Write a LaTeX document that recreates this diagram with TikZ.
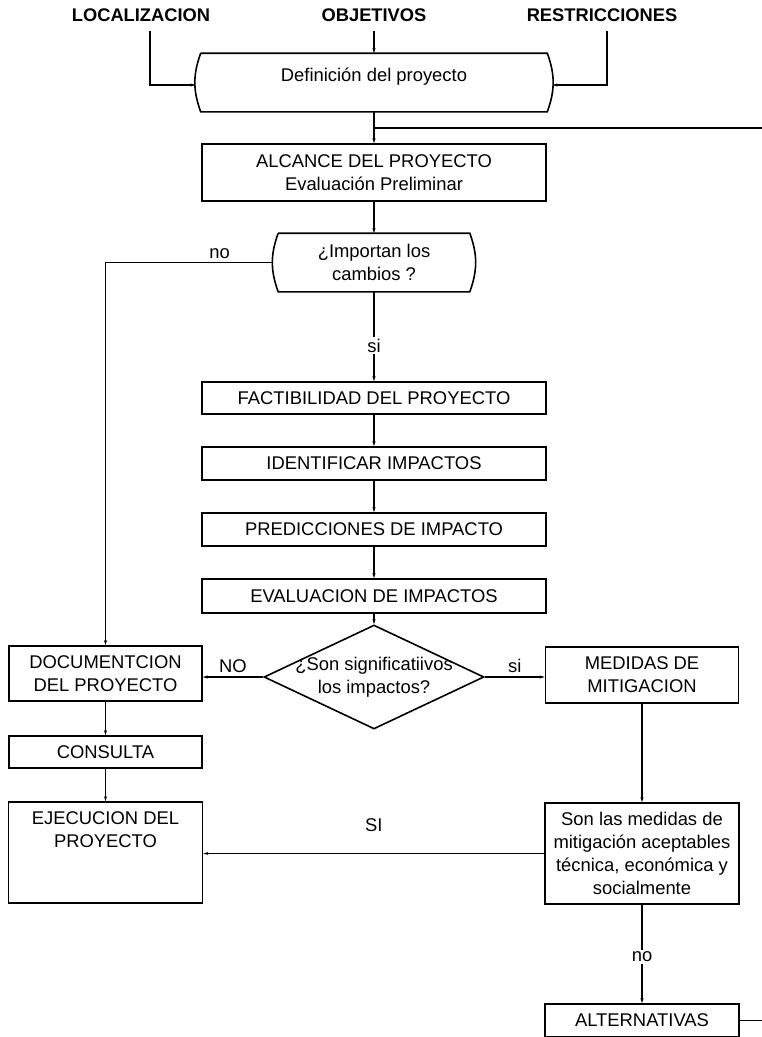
\documentclass[tikz,border=0pt]{standalone}
\usepackage{fontspec}
\setmainfont{Liberation Sans}
\usepackage{tikz}
\usetikzlibrary{arrows.meta,shapes.geometric,calc}
\tikzset{caja/.style={draw,rectangle,align=center,inner sep=0pt}}
\tikzset{barril/.style={rectangle,align=center,inner sep=0pt,minimum height=57pt}}
\tikzset{rombo/.style={draw,diamond,inner sep=0pt,minimum width=220pt,minimum height=104pt}}
\tikzset{etiq/.style={font=\bfseries\fontsize{18.3}{22}\selectfont,inner sep=1pt}}

\begin{document}
\begin{tikzpicture}[x=1pt,y=-1pt,line width=1.6pt,>={Stealth[length=5pt,width=3pt]},
  font=\fontsize{18.4}{23}\selectfont]
\useasboundingbox (0,0) rectangle (762,1037);
% entradas
\node[etiq] (loca) at (141,15) {LOCALIZACION};
\node[etiq] (obje) at (374,15) {OBJETIVOS};
\node[etiq] (rest) at (602,15) {RESTRICCIONES};
% columna central
\node[barril,minimum width=355pt,text depth=16pt] (defi) at (374,82.5) {Definición del proyecto};
\node[caja,minimum width=344pt,minimum height=57pt] (alca) at (374,172.5)
  {ALCANCE DEL PROYECTO\\Evaluación Preliminar};
\node[barril,minimum width=200pt] (camb) at (374,262.5) {¿Importan los\\cambios ?};
\node[caja,minimum width=344pt,minimum height=32pt] (fact) at (374,398) {FACTIBILIDAD DEL PROYECTO};
\node[caja,minimum width=344pt,minimum height=33pt] (iden) at (374,463.5) {IDENTIFICAR IMPACTOS};
\node[caja,minimum width=344pt,minimum height=33pt] (pred) at (374,529.5) {PREDICCIONES DE IMPACTO};
\node[caja,minimum width=344pt,minimum height=34pt] (eval) at (374,596) {EVALUACION DE IMPACTOS};
\node[rombo,label={[align=center]center:{¿Son significatiivos\\los impactos?}}] (dec) at (374,677) {};
% columna izquierda
\node[caja,minimum width=193pt,minimum height=55pt] (docu) at (105.5,673.5) {DOCUMENTCION\\DEL PROYECTO};
\node[caja,minimum width=193pt,minimum height=32pt] (cons) at (105.5,752) {CONSULTA};
\node[caja,minimum width=194pt,minimum height=101pt] (ejec) at (105.5,852.5)
  {EJECUCION DEL\\PROYECTO\\~\\~};
% columna derecha
\node[caja,minimum width=193pt,minimum height=56pt] (medi) at (642,675) {MEDIDAS DE\\MITIGACION};
\node[caja,minimum width=194pt,minimum height=101pt] (son) at (642,853.5)
  {Son las medidas de\\mitigación aceptables\\técnica, económica y\\socialmente};
\node[caja,minimum width=194pt,minimum height=33pt] (alte) at (642,1020.5) {ALTERNATIVAS};
\coordinate (der1) at (762,128);
\coordinate (der2) at (762,1020.5);

% contorno de los nodos redondeados
\foreach \n in {defi,camb}{
  \draw ($(\n.north west)+(5,0)$) -- ($(\n.north east)+(-5,0)$)
    to[bend left=20] ($(\n.south east)+(-5,0)$) -- ($(\n.south west)+(5,0)$)
    to[bend left=20] ($(\n.north west)+(5,0)$);
}

% conexiones
\draw[->,shorten <=8pt] ([xshift=9pt]loca.south) |- ([yshift=-2.5pt]defi.west);
\path[->,shorten <=8pt] (obje) edge (defi);
\draw[->,shorten <=8pt] ([xshift=5pt]rest.south) |- ([yshift=-2.5pt]defi.east);
\path[->] (defi) edge (alca) (alca) edge (camb);
\draw (der1) -- (der1 -| defi.south);
\draw[->] (camb.west) -| node[pos=.16,above] {no} (docu.north);
\path[->] (camb) edge node[pos=.6,fill=white,inner sep=2pt] {si} (fact);
\path[->] (fact) edge (iden) (iden) edge (pred) (pred) edge (eval) (eval) edge (dec);
\path[->] (dec.west) edge node[above] {NO} (docu.east |- dec.west);
\path[->] (dec.east) edge node[above] {si} (medi.west |- dec.east);
\path[->] (docu) edge (cons) (cons) edge (ejec);
\path[->] (medi) edge (son);
\path[->] (son.west) edge node[above=18pt] {SI} (ejec.east |- son.west);
\path[->] (son) edge node[pos=.53,fill=white,inner sep=2pt] {no} (alte);
\draw (alte.east) -- (der2);
\end{tikzpicture}
\end{document}
